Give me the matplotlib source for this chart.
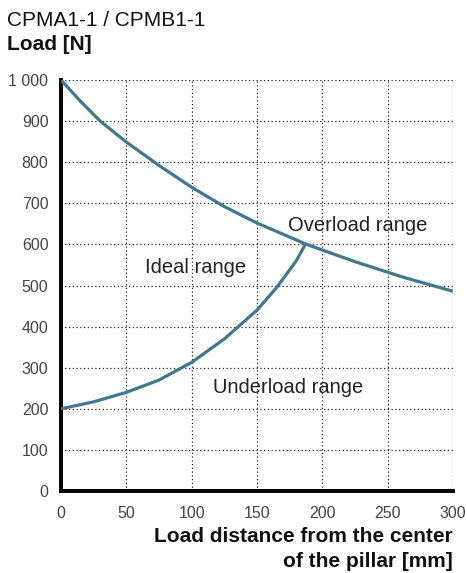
import matplotlib
matplotlib.use("Agg")
import matplotlib.pyplot as plt

plt.rcParams['font.family'] = ['Liberation Sans', 'DejaVu Sans']

# Data
upper_x = [0, 15, 30, 50, 75, 100, 125, 150, 188, 225, 262, 300]
upper_y = [1000, 948, 900, 849, 792, 739, 692, 652, 600, 558, 520, 486]

lower_x = [0, 25, 50, 75, 100, 125, 150, 165, 175, 180, 187]
lower_y = [200, 217, 240, 270, 313, 370, 440, 495, 538, 560, 600]

x_ticks = [0, 50, 100, 150, 200, 250, 300]
y_ticks = [0, 100, 200, 300, 400, 500, 600, 700, 800, 900, 1000]
y_ticklabels = ["0", "100", "200", "300", "400", "500", "600", "700", "800", "900", "1 000"]

region_labels = ["Overload range", "Ideal range", "Underload range"]
region_pos = [(227, 647), (103, 545), (174, 252)]

title = "CPMA1-1 / CPMB1-1"
ylabel = "Load [N]"
xlabel = "Load distance from the center\nof the pillar [mm]"

line_color = "#41788f"

fig = plt.figure(figsize=(4.67, 5.73), dpi=100)
ax = fig.add_axes([61/467, 1-491/573, (453-61)/467, (491-80)/573])

ax.plot(upper_x, upper_y, color=line_color, lw=2.3, solid_capstyle='butt',
        solid_joinstyle='round', zorder=3)
ax.plot(lower_x, lower_y, color=line_color, lw=2.3, solid_capstyle='butt',
        solid_joinstyle='round', zorder=3)

ax.set_xlim(0, 300)
ax.set_ylim(0, 1000)
ax.set_xticks(x_ticks)
ax.set_yticks(y_ticks)
ax.set_yticklabels(y_ticklabels)
ax.tick_params(length=0, labelsize=11.5, colors="#444444", pad=9)
ax.tick_params(axis='x', pad=11)

ax.grid(True, linestyle=(0, (1, 2)), color="#222222", lw=0.9)
for s in ['top', 'right']:
    ax.spines[s].set_visible(False)
for s in ['left', 'bottom']:
    ax.spines[s].set_linewidth(2.8)
    ax.spines[s].set_color("black")
ax.set_axisbelow(True)

for lab, (px, py) in zip(region_labels, region_pos):
    ax.text(px, py, lab, fontsize=14.5, color="#222222", ha="center", va="center")

fig.text(7/467, 1-21/573, title, fontsize=15, ha="left", va="center", color="#111111")
fig.text(7/467, 1-44/573, ylabel, fontsize=15, fontweight="bold", ha="left", va="center", color="#111111")
fig.text(453/467, 1-549/573, xlabel, fontsize=15, fontweight="bold", ha="right", va="center",
         color="#111111", linespacing=1.38, multialignment="right")

fig.savefig("out.png", dpi=100)
